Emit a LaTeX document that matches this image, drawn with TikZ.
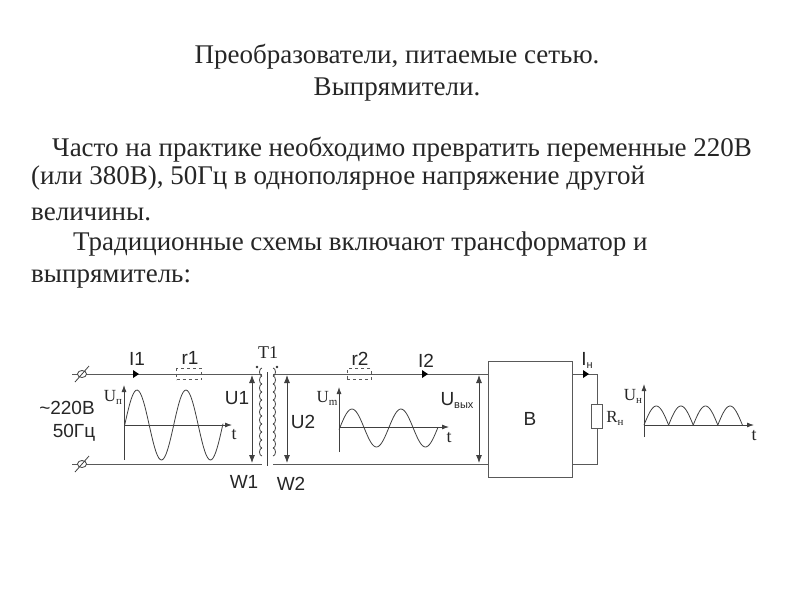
\documentclass[tikz,border=0pt]{standalone}
\usepackage{fontspec}
\setmainfont{Liberation Serif}
\newfontfamily\labelfont{Liberation Sans}
\usetikzlibrary{positioning,shapes.geometric,arrows.meta}
\tikzset{
  wire/.style={draw=black!65,line width=1pt},
  thinwire/.style={draw=black!75,line width=.8pt},
  volt/.style={thinwire,{Latex[length=8pt,width=6pt]}-{Latex[length=8pt,width=6pt]}},
  axis/.style={thinwire,-{Latex[length=7pt,width=5pt]}},
  bodytext/.style={anchor=base west,inner sep=0pt,font=\fontsize{27}{27}\selectfont,text=black!85},
  titletext/.style={anchor=base,inner sep=0pt,font=\fontsize{27}{27}\selectfont,text=black!85},
  sanslabel/.style={inner sep=0pt,font=\labelfont\fontsize{19}{19}\selectfont,text=black!85},
  seriflabel/.style={inner sep=0pt,font=\fontsize{18}{18}\selectfont,text=black!85},
}
\newcommand{\subidx}[1]{\raisebox{-3pt}{\fontsize{11}{11}\selectfont #1}}
\begin{document}
\begin{tikzpicture}[x=1pt,y=-1pt]
\useasboundingbox (0,0) rectangle (800,600);
% text
\node[titletext] (title1) at (397,63) {Преобразователи, питаемые сетью.};
\node[titletext] (title2) at (397,95) {Выпрямители.};
\node[bodytext] (line1) at (52,156) {Часто на практике необходимо превратить переменные 220В};
\node[bodytext] (line2) at (31,184) {(или 380В), 50Гц в однополярное напряжение другой};
\node[bodytext] (line3) at (31,220) {величины.};
\node[bodytext] (line4) at (73,250) {Традиционные схемы включают трансформатор и};
\node[bodytext] (line5) at (31,282) {выпрямитель:};
% circuit points
\coordinate (intop) at (72,374);
\coordinate (inbot) at (72,464);
\coordinate (p1top) at (262,374);
\coordinate (p1bot) at (262,464);
\coordinate (s1top) at (273,374);
\coordinate (s1bot) at (273,464);
\node[wire,sanslabel,minimum width=84pt,minimum height=116pt] (B) at (530,419) {В};
\coordinate (btop) at (B.east |- intop);
\coordinate (bbot) at (B.east |- inbot);
\coordinate (rtop) at (597,374);
\coordinate (rbot) at (597,464);
\node[wire,minimum width=11pt,minimum height=24pt,inner sep=0pt] (Rn) at (597,416) {};
\draw[wire] (intop) -- (p1top);
\draw[wire] (inbot) -- (p1bot);
\draw[wire] (s1top) -- (B.west |- s1top);
\draw[wire] (s1bot) -- (B.west |- s1bot);
\draw[wire] (btop) -- (rtop) -- (Rn.north);
\draw[wire] (bbot) -- (rbot) -- (Rn.south);
% terminals
\foreach \name/\yy in {ta/374,tb/464}{
  \node[thinwire,ellipse,minimum width=9pt,minimum height=7pt,inner sep=0pt,fill=white] (\name) at (82,\yy) {};
  \draw[thinwire] (75,\yy+8) -- (89,\yy-8);
}
% dashed resistors
\node[wire,dashed,minimum width=25pt,minimum height=11pt,inner sep=0pt] (r1) at (189,374) {};
\node[wire,dashed,minimum width=24pt,minimum height=11pt,inner sep=0pt] (r2) at (359,374) {};
% transformer
\draw[thinwire] (267,372) -- (267,466);
\foreach \k in {0,...,10}{
  \draw[thinwire] (262,376+8*\k) arc (90:-90:-2.5 and 4);
  \draw[thinwire] (273,376+8*\k) arc (90:-90:2.5 and 4);
}
\fill[black!80] (257,367) circle (1.3pt) (277,367) circle (1.3pt);
% voltages
\coordinate (u1a) at (252,375); \coordinate (u1b) at (252,463);
\coordinate (u2a) at (287,375); \coordinate (u2b) at (287,463);
\coordinate (uoa) at (479,375); \coordinate (uob) at (479,463);
\draw[volt] (u1a) -- (u1b);
\draw[volt] (u2a) -- (u2b);
\draw[volt] (uoa) -- (uob);
% current marks
\foreach \xx in {136,425,586}
  \fill[black] (\xx-3,370) -- (\xx+3,374) -- (\xx-3,378) -- cycle;
% waves
\draw[axis] (124,460) -- (124,385);
\draw[axis] (124,425) -- (232,425);
\draw[thinwire,smooth] plot[domain=124.7:223,samples=70] (\x,{425-35*sin((\x-124.7)/49*360)});
\draw[axis] (339,452) -- (339,387);
\draw[axis] (339,427) -- (449,427);
\draw[thinwire,smooth] plot[domain=339:438,samples=70] (\x,{428-19*sin((\x-339.7)/49*360)});
\draw[axis] (644,437) -- (644,384);
\draw[axis] (644,425) -- (754,425);
\foreach \xa in {644,668.6,693.2,717.8}
  \draw[thinwire] plot[domain=0:180,samples=25] ({\xa+24.6*\x/180},{425-19*sin(\x)});
% labels
\node[sanslabel] (I1) at (137,359) {I1};
\node[sanslabel] (r1lab) at (190,358) {r1};
\node[sanslabel] (r2lab) at (360,359) {r2};
\node[sanslabel] (I2) at (426,361) {I2};
\node[seriflabel] (T1) at (268,353) {T1};
\node[sanslabel] (mains) at (67,408) {\textasciitilde220В};
\node[sanslabel] (freq) at (74,433) {50Гц};
\node[sanslabel] (U1) at (237,398) {U1};
\node[sanslabel] (U2) at (303,422) {U2};
\node[sanslabel] (W1) at (244,482) {W1};
\node[sanslabel] (W2) at (291,484) {W2};
\node[seriflabel,font=\fontsize{17}{17}\selectfont] (Up) at (113,397) {U\subidx{п}};
\node[seriflabel,font=\fontsize{17}{17}\selectfont] (Um) at (327,398) {U\subidx{m}};
\node[seriflabel,font=\fontsize{17}{17}\selectfont] (Un) at (633,396) {U\subidx{н}};
\node[seriflabel,font=\fontsize{17}{17}\selectfont] (Rnlab) at (615,418) {R\subidx{н}};
\node[sanslabel] (Uout) at (457,400) {U\subidx{вых}};
\node[sanslabel] (In) at (587,360) {I\subidx{н}};
\node[seriflabel] (t1) at (234,435) {t};
\node[seriflabel] (t2) at (449,438) {t};
\node[seriflabel] (t3) at (754,436) {t};
\end{tikzpicture}
\end{document}
